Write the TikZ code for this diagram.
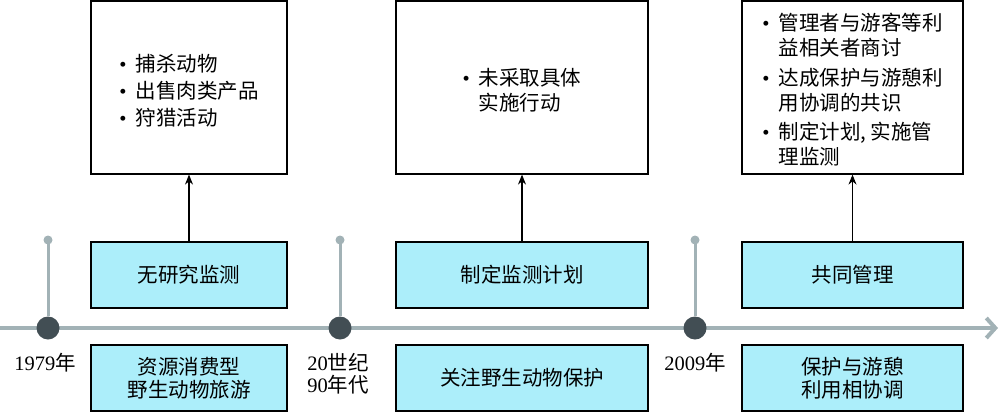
\documentclass[tikz,border=0pt]{standalone}
\usepackage{fontspec}
\setmainfont{Noto Sans CJK SC}
\newfontfamily\numfont{Liberation Serif}
\usetikzlibrary{arrows.meta}
\definecolor{boxcyan}{RGB}{172,238,250}
\definecolor{linegray}{RGB}{162,178,182}
\definecolor{dotdark}{RGB}{66,78,84}
\newcommand{\bul}{{\numfont\textbullet}}
\newcommand{\sinktext}[2]{\raisebox{-#1}[\height][\depth]{#2}}

\begin{document}
\begin{tikzpicture}[x=1pt,y=-1pt,
    every node/.style={font=\fontsize{20.5}{23}\selectfont},
    stage/.style={draw=black, line width=1.2pt, fill=boxcyan, inner sep=0pt, align=center, minimum height=66pt},
    detail/.style={draw=black, line width=1.2pt, fill=white, inner sep=0pt, minimum height=173pt},
    up/.style={-{Stealth[length=10pt,width=8pt]}, line width=1.2pt}]
        \useasboundingbox (0,0) rectangle (1000,412);
        % timeline
        \coordinate (start) at (0,328);
        \coordinate (end) at (998,328);
        \draw[linegray, line width=4pt, -{Straight Barb[length=9pt,width=20pt]}] (start) -- (end);
        \foreach \x/\n in {48/1, 340/2, 695/3} {
            \coordinate (t\n) at (\x,240);
            \node[circle, fill=dotdark, minimum size=23pt, inner sep=0pt] (p\n) at (\x,328) {};
            \draw[linegray, line width=3pt] (p\n) -- (t\n);
            \fill[linegray] (t\n) circle[radius=4.5pt];
        }
        % years
        \node (y1) at (45,363) {{\numfont 1979}年};
        \node[align=center, font=\fontsize{20.5}{22}\selectfont] (y2) at (338,374) {{\numfont 20}世纪\\{\numfont 90}年代};
        \node (y3) at (695,363) {{\numfont 2009}年};
        % stages
        \node[stage, minimum width=196pt] (m1) at (189,275) {无研究监测};
        \node[stage, minimum width=252pt] (m2) at (522,275) {制定监测计划};
        \node[stage, minimum width=221pt] (m3) at (852.5,275) {共同管理};
        \node[stage, minimum width=196pt] (s1) at (189,378) {资源消费型\\野生动物旅游};
        \node[stage, minimum width=252pt] (s2) at (522,378) {关注野生动物保护};
        \node[stage, minimum width=221pt] (s3) at (852.5,378) {保护与游憩\\利用相协调};
        % details
        \node[detail, minimum width=196pt] (d1) at (189,87.5) {\sinktext{6pt}{%
            \begin{tabular}{@{}l@{\hspace{9pt}}l@{}}
            \bul & 捕杀动物\\[3pt] \bul & 出售肉类产品\\[3pt] \bul & 狩猎活动
            \end{tabular}}};
        \node[detail, minimum width=252pt] (d2) at (522,87.5) {\sinktext{5pt}{%
            \begin{tabular}{@{}l@{\hspace{9pt}}l@{}}
            \bul & 未采取具体\\[1pt] & 实施行动
            \end{tabular}}};
        \node[detail, minimum width=221pt] (d3) at (852.5,87.5) {\sinktext{5pt}{%
            \begin{tabular}{@{}l@{\hspace{9pt}}l@{}}
            \bul & 管理者与游客等利\\[1pt] & 益相关者商讨\\[5pt]
            \bul & 达成保护与游憩利\\[1pt] & 用协调的共识\\[5pt]
            \bul & 制定计划, 实施管\\[1pt] & 理监测
            \end{tabular}}};
        \foreach \n in {1,2,3} {
            \draw[up] (m\n) -- (d\n);
        }
    \end{tikzpicture}
\end{document}
